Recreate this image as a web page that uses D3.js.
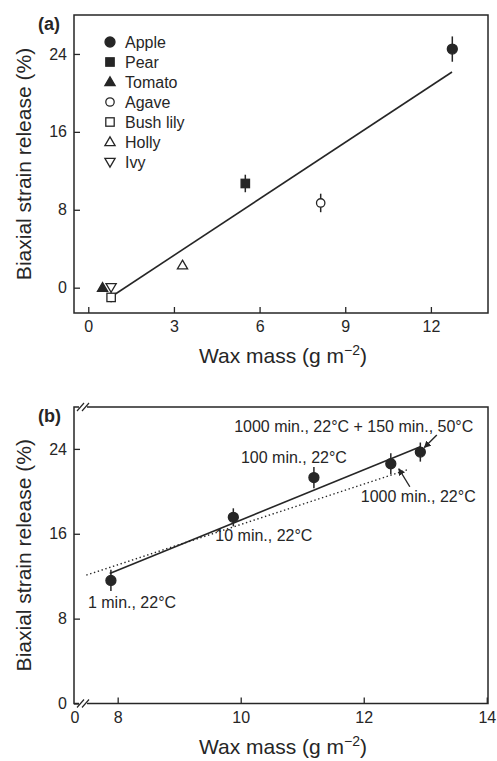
<!DOCTYPE html>
<html>
<head>
<meta charset="utf-8">
<script src="https://cdn.jsdelivr.net/npm/d3@7"></script>
<style>
  body { margin: 0; background: #fff; }
  text { font-family: Arial, "Liberation Sans", sans-serif; fill: #262626; }
</style>
</head>
<body>
<script>
// panel (a): species
var species = ["Apple", "Pear", "Tomato", "Agave", "Bush lily", "Holly", "Ivy"];
var symbols = ["circle", "square", "triangle", "circle", "square", "triangle", "triangleDown"];
var filled = [true, true, true, false, false, false, false];
var waxA = [12.75, 5.5, 0.5, 8.14, 0.8, 3.3, 0.8];
var strainA = [24.5, 10.7, 0.0, 8.7, -1.0, 2.3, 0.05];
var errA = [1.3, 0.9, 0, 0.95, 0.5, 0, 0.3];
var fitA = [[0.87, -0.8], [12.74, 22.15]];

// panel (b): apple treatments
var treatments = ["1 min., 22°C", "10 min., 22°C", "100 min., 22°C", "1000 min., 22°C", "1000 min., 22°C + 150 min., 50°C"];
var waxB = [7.89, 9.88, 11.19, 12.44, 12.92];
var strainB = [11.6, 17.55, 21.3, 22.6, 23.7];
var errB = [1.0, 0.85, 1.0, 1.0, 0.9];
var fitB = [[7.87, 12.26], [12.92, 24.2]];
var dottedB = [[7.49, 12.1], [12.73, 22.07]];

var xTicksA = [0, 3, 6, 9, 12];
var yTicks = [0, 8, 16, 24];
var xTicksB = [8, 10, 12, 14];

var W = 497, H = 761;
var ink = "#262626";
var svg = d3.select("body").append("svg").attr("width", W).attr("height", H);

svg.append("defs").append("marker")
    .attr("id", "arr")
    .attr("viewBox", "0 0 10 10")
    .attr("refX", 9).attr("refY", 5)
    .attr("markerWidth", 7).attr("markerHeight", 7)
    .attr("markerUnits", "userSpaceOnUse")
    .attr("orient", "auto")
  .append("path").attr("d", "M0,0L10,5L0,10z").attr("fill", ink);

function frame(g, x, y) {
    g.append("rect")
        .attr("x", x.range()[0]).attr("y", y.range()[1])
        .attr("width", x.range()[1] - x.range()[0])
        .attr("height", y.range()[0] - y.range()[1])
        .attr("fill", "none").attr("stroke", ink).attr("stroke-width", 1.5);
}

function axes(g, x, y, xt, label) {
    var ax = g.append("g").attr("transform", "translate(0," + y.range()[0] + ")")
        .call(d3.axisBottom(x).tickValues(xt).tickSize(-6).tickPadding(8).tickFormat(d3.format("d")));
    var ay = g.append("g").attr("transform", "translate(" + x.range()[0] + ",0)")
        .call(d3.axisLeft(y).tickValues(yTicks).tickSize(-6).tickPadding(7).tickFormat(d3.format("d")));
    [ax, ay].forEach(function (a) {
        a.select(".domain").remove();
        a.selectAll("line").attr("stroke", ink).attr("stroke-width", 1.3);
        a.selectAll("text").attr("font-size", 16).attr("fill", ink)
            .style("font-family", "Arial, 'Liberation Sans', sans-serif");
    });
    var cx = (x.range()[0] + x.range()[1]) / 2 + 2;
    var t = g.append("text").attr("x", cx).attr("y", y.range()[0] + 50)
        .attr("text-anchor", "middle").attr("font-size", 21);
    t.append("tspan").text("Wax mass (g m");
    t.append("tspan").attr("font-size", 14).attr("dy", -8).text("\u22122");
    t.append("tspan").attr("dy", 8).text(")");

    var cy = (y.range()[0] + y.range()[1]) / 2;
    g.append("text").attr("transform", "translate(31," + cy + ") rotate(-90)")
        .attr("text-anchor", "middle").attr("font-size", 21)
        .text("Biaxial strain release (%)");

    g.append("text").attr("x", 38).attr("y", y.range()[1] + 15)
        .attr("font-size", 18).attr("font-weight", "bold").text(label);
}

function marker(g, type, fill, cx, cy) {
    var s = 4.6;
    var st = { fill: fill ? ink : "#fff", stroke: ink, "stroke-width": 1.3 };
    var el;
    if (type === "circle") {
        el = g.append("circle").attr("cx", cx).attr("cy", cy).attr("r", fill ? 5 : 4.2);
    } else if (type === "square") {
        el = g.append("rect").attr("x", cx - 4.2).attr("y", cy - 4.2).attr("width", 8.4).attr("height", 8.4);
    } else if (type === "triangle") {
        el = g.append("path").attr("d", "M" + cx + "," + (cy - s - 0.5) + "L" + (cx + s + 0.5) + "," + (cy + s - 1) + "L" + (cx - s - 0.5) + "," + (cy + s - 1) + "Z");
    } else {
        el = g.append("path").attr("d", "M" + cx + "," + (cy + s + 0.5) + "L" + (cx + s + 0.5) + "," + (cy - s + 1) + "L" + (cx - s - 0.5) + "," + (cy - s + 1) + "Z");
    }
    Object.keys(st).forEach(function (k) { el.attr(k, st[k]); });
}

function errbar(g, x, y, xv, yv, e) {
    if (!e) return;
    g.append("line").attr("x1", x(xv)).attr("x2", x(xv))
        .attr("y1", y(yv - e)).attr("y2", y(yv + e))
        .attr("stroke", ink).attr("stroke-width", 1.5);
}

function fitLine(g, x, y, pts, dash) {
    g.append("line")
        .attr("x1", x(pts[0][0])).attr("y1", y(pts[0][1]))
        .attr("x2", x(pts[1][0])).attr("y2", y(pts[1][1]))
        .attr("stroke", ink).attr("stroke-width", dash ? 1.4 : 1.6)
        .attr("stroke-dasharray", dash ? "1.4,2.6" : null);
}

// ---------- panel (a)
var xA = d3.scaleLinear().domain([-0.5, 14]).range([74, 488]);
var yA = d3.scaleLinear().domain([-2.6, 28]).range([313, 15]);
var gA = svg.append("g");
frame(gA, xA, yA);
axes(gA, xA, yA, xTicksA, "(a)");
fitLine(gA, xA, yA, fitA, false);
// draw in reverse so apple/pear sit on top
for (var i = species.length - 1; i >= 0; i--) {
    errbar(gA, xA, yA, waxA[i], strainA[i], errA[i]);
    marker(gA, symbols[i], filled[i], xA(waxA[i]), yA(strainA[i]));
}
var leg = gA.append("g").attr("transform", "translate(110,42)");
species.forEach(function (s, i) {
    marker(leg, symbols[i], filled[i], 0, i * 20);
    leg.append("text").attr("x", 15).attr("y", i * 20 + 6)
        .attr("font-size", 16).text(s);
});

// ---------- panel (b)
var xB = d3.scaleLinear().domain([7.29, 14.02]).range([74, 488]);
var yB = d3.scaleLinear().domain([0, 27.95]).range([703.5, 407]);
var gB = svg.append("g");
frame(gB, xB, yB);
axes(gB, xB, yB, xTicksB, "(b)");
gB.append("text").attr("x", 75).attr("y", 703.5 + 8 + 11.4)
    .attr("text-anchor", "middle").attr("font-size", 16).text("0");

// axis break marks
[407, 703.5].forEach(function (yy) {
    gB.append("rect").attr("x", 79).attr("y", yy - 2).attr("width", 8).attr("height", 4).attr("fill", "#fff");
    [79, 84].forEach(function (xx) {
        gB.append("line").attr("x1", xx - 2).attr("y1", yy + 4).attr("x2", xx + 5).attr("y2", yy - 4)
            .attr("stroke", ink).attr("stroke-width", 1.2);
    });
});

fitLine(gB, xB, yB, dottedB, true);
fitLine(gB, xB, yB, fitB, false);
treatments.forEach(function (t, i) {
    errbar(gB, xB, yB, waxB[i], strainB[i], errB[i]);
    marker(gB, "circle", true, xB(waxB[i]), yB(strainB[i]));
});

// label offsets in pixels from each point
var lab = [
    { dx: -23, dy: 28, anchor: "start" },
    { dx: -18, dy: 24, anchor: "start" },
    { dx: -73, dy: -15, anchor: "start" },
    { dx: -30, dy: 38, anchor: "start", arrow: [[19, 23], [8, 5]] },
    { dx: 53, dy: -20, anchor: "end", arrow: [[16.5, -17], [4, -4.5]] }
];
treatments.forEach(function (t, i) {
    var px = xB(waxB[i]), py = yB(strainB[i]), L = lab[i];
    gB.append("text").attr("x", px + L.dx).attr("y", py + L.dy)
        .attr("text-anchor", L.anchor).attr("font-size", 16).text(t);
    if (L.arrow) {
        gB.append("line")
            .attr("x1", px + L.arrow[0][0]).attr("y1", py + L.arrow[0][1])
            .attr("x2", px + L.arrow[1][0]).attr("y2", py + L.arrow[1][1])
            .attr("stroke", ink).attr("stroke-width", 1.4)
            .attr("marker-end", "url(#arr)");
    }
});
</script>
</body>
</html>
